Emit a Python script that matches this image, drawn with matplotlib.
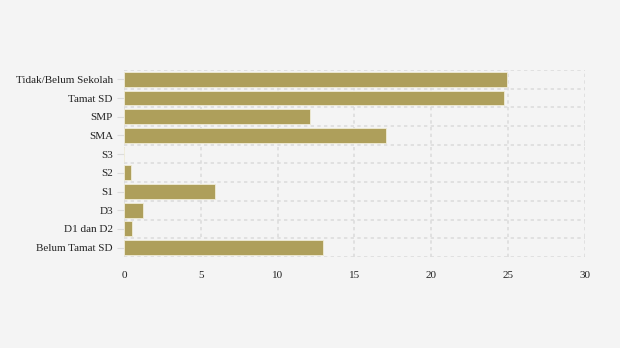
import matplotlib
matplotlib.use("Agg")
import matplotlib.pyplot as plt
import numpy as np

categories = ["Tidak/Belum Sekolah", "Tamat SD", "SMP", "SMA", "S3", "S2", "S1", "D3", "D1 dan D2", "Belum Tamat SD"]
values = [24.9, 24.7, 12.1, 17.05, 0.0, 0.45, 5.9, 1.25, 0.5, 12.95]
xticks = [0, 5, 10, 15, 20, 25, 30]

plt.rcParams['font.family'] = ['Liberation Serif', 'DejaVu Serif']
bg = "#f4f4f4"
fig = plt.figure(figsize=(6.2, 3.48), dpi=100, facecolor=bg)
ax = fig.add_axes([0.2, 0.2615, 0.7435, 0.5375], facecolor=bg)

y = np.arange(len(categories))
ax.barh(y, values, height=0.8, color="#ae9f5b", edgecolor="#f0ecd8", linewidth=0.6, zorder=3)

ax.set_xlim(0, 30)
ax.set_ylim(len(categories) - 0.5, -0.5)
ax.set_xticks(xticks)
ax.set_xticklabels([str(t) for t in xticks], fontsize=8, color="#222222")
ax.set_yticks(y)
ax.set_yticklabels(categories, fontsize=8, color="#222222")
ax.set_yticks(np.arange(-0.5, len(categories), 1.0), minor=True)

for s in ax.spines.values():
    s.set_visible(False)

ax.grid(axis="x", which="major", color="#dcdcdc", linestyle=(0, (2, 2)), linewidth=1.2, zorder=1)
ax.grid(axis="y", which="minor", color="#dcdcdc", linestyle=(0, (2, 2)), linewidth=1.2, zorder=1)
ax.tick_params(axis="x", which="both", length=0, pad=10)
ax.tick_params(axis="y", which="major", length=5, color="#dcdcdc", pad=3)
ax.tick_params(axis="y", which="minor", length=0)

fig.savefig("out.png", dpi=100, facecolor=bg)
